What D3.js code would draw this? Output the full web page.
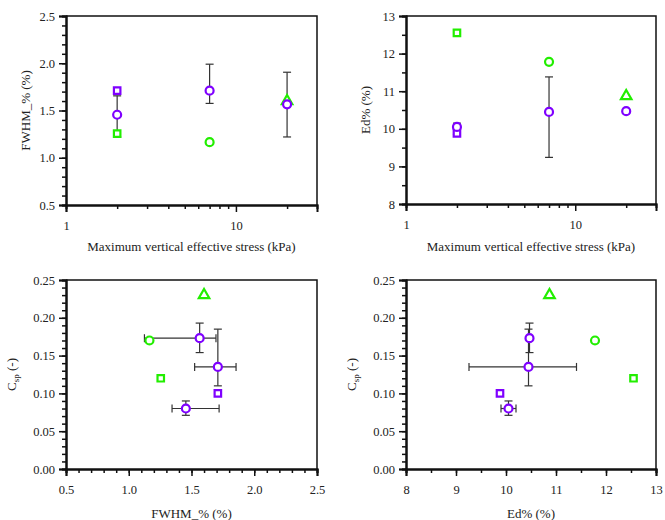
<!DOCTYPE html>
<html>
<head>
<meta charset="utf-8">
<script src="https://cdn.jsdelivr.net/npm/d3@7"></script>
<style>
  body { margin: 0; background: #fff; }
  text { font-family: "Liberation Serif", "DejaVu Serif", serif; fill: #222; }
</style>
</head>
<body>
<script>
// samples: stress (kPa), FWHM_% , Ed%, Csp, group colour and marker shape
var stress = [2, 2, 2, 7, 7, 20, 20];
var fwhm   = [1.71, 1.455, 1.255, 1.71, 1.165, 1.60, 1.565];
var ed     = [9.88, 10.05, 12.55, 10.45, 11.78, 10.87, 10.47];
var csp    = [0.10, 0.08, 0.12, 0.135, 0.17, 0.23, 0.173];
var group  = ["purple", "purple", "green", "purple", "green", "green", "purple"];
var shape  = ["square", "circle", "square", "circle", "circle", "triangle", "circle"];

// error bars read per panel: [index, low, high]
var fwhmErrStress = [[1, 1.22, 1.655], [3, 1.575, 1.99], [6, 1.22, 1.905]];
var edErrStress   = [[1, 9.85, 10.15], [3, 9.24, 11.38], [6, 10.43, 10.51]];
var fwhmErrCsp    = [[1, 1.345, 1.72], [3, 1.525, 1.855], [6, 1.125, 1.695]];
var cspErr        = [[1, 0.071, 0.09], [3, 0.11, 0.185], [6, 0.154, 0.193]];
var edErrCsp      = [[1, 9.9, 10.2], [3, 9.26, 11.41], [6, 10.43, 10.51]];

var stressMajor = [1, 10];
var stressMinor = [2, 3, 4, 5, 6, 7, 8, 9, 20];

var colors = { purple: "#7f00ff", green: "#22ee00" };

var svg = d3.select("body").append("svg")
  .attr("width", 665)
  .attr("height", 520);

function panel(o) {
  var g = svg.append("g");
  var x = o.log ? d3.scaleLog() : d3.scaleLinear();
  x.domain(o.xDomain).range([o.left, o.right]);
  var y = d3.scaleLinear().domain(o.yDomain).range([o.bottom, o.top]);

  // frame top + right
  g.append("path")
    .attr("d", `M${o.left},${o.top}H${o.right}V${o.bottom}`)
    .attr("fill", "none").attr("stroke", "#111").attr("stroke-width", 1.5);

  // x axis
  var xa = g.append("g").attr("transform", `translate(0,${o.bottom})`)
    .call(d3.axisBottom(x).tickValues(o.xMinor).tickSize(4).tickFormat(""));
  xa.append("g")
    .call(d3.axisBottom(x).tickValues(o.xMajor).tickSize(7).tickPadding(9).tickFormat(o.xFmt));
  xa.selectAll(".domain").attr("stroke", "#111").attr("stroke-width", 2);
  xa.selectAll("line").attr("stroke", "#111").attr("stroke-width", 1.5);
  xa.selectAll("text").attr("font-size", 12.5).attr("font-family", "Liberation Serif").attr("fill", "#222");

  var ya = g.append("g").attr("transform", `translate(${o.left},0)`)
    .call(d3.axisLeft(y).tickValues(o.yMinor).tickSize(4).tickFormat(""));
  ya.append("g")
    .call(d3.axisLeft(y).tickValues(o.yMajor).tickSize(7).tickPadding(4).tickFormat(o.yFmt));
  ya.selectAll(".domain").attr("stroke", "#111").attr("stroke-width", 2);
  ya.selectAll("line").attr("stroke", "#111").attr("stroke-width", 1.5);
  ya.selectAll("text").attr("font-size", 12.5).attr("font-family", "Liberation Serif").attr("fill", "#222");

  // axis titles
  g.append("text")
    .attr("x", (o.left + o.right) / 2).attr("y", o.bottom + o.xLabelDy)
    .attr("text-anchor", "middle").attr("font-size", 13)
    .text(o.xLabel);
  var yl = g.append("text")
    .attr("text-anchor", "middle").attr("font-size", 13)
    .attr("transform", `translate(${o.left - o.yLabelDx},${(o.top + o.bottom) / 2})rotate(-90)`);
  o.yLabel(yl);

  var eb = g.append("g").attr("stroke", "#333").attr("stroke-width", 1.2);
  o.yErr.forEach(function(e) {
    var cx = x(o.xs[e[0]]), y0 = y(e[1]), y1 = y(e[2]);
    eb.append("line").attr("x1", cx).attr("x2", cx).attr("y1", y0).attr("y2", y1);
    eb.append("line").attr("x1", cx - 4).attr("x2", cx + 4).attr("y1", y0).attr("y2", y0);
    eb.append("line").attr("x1", cx - 4).attr("x2", cx + 4).attr("y1", y1).attr("y2", y1);
  });
  (o.xErr || []).forEach(function(e) {
    var cy = y(o.ys[e[0]]), x0 = x(e[1]), x1 = x(e[2]);
    eb.append("line").attr("y1", cy).attr("y2", cy).attr("x1", x0).attr("x2", x1);
    eb.append("line").attr("y1", cy - 4).attr("y2", cy + 4).attr("x1", x0).attr("x2", x0);
    eb.append("line").attr("y1", cy - 4).attr("y2", cy + 4).attr("x1", x1).attr("x2", x1);
  });

  var sym = { circle: d3.symbolCircle, square: d3.symbolSquare, triangle: d3.symbolTriangle };
  var size = { circle: 50, square: 42, triangle: 48 };
  g.append("g").selectAll("path")
    .data(d3.range(o.xs.length))
    .join("path")
    .attr("transform", function(i) { return `translate(${x(o.xs[i])},${y(o.ys[i])})`; })
    .attr("d", function(i) { return d3.symbol(sym[shape[i]], size[shape[i]])(); })
    .attr("fill", "#fff")
    .attr("stroke", function(i) { return colors[group[i]]; })
    .attr("stroke-width", 2.2);
}

function plainLabel(t) { return function(sel) { sel.text(t); }; }
function cspLabel(sel) {
  sel.append("tspan").text("C");
  sel.append("tspan").attr("font-size", 9).attr("dy", 3).text("sp");
  sel.append("tspan").attr("dy", -3).text(" (-)");
}

var f1 = d3.format(".1f"), f2 = d3.format(".2f"), f0 = d3.format("d");

panel({
  left: 66, right: 317, top: 16, bottom: 205, log: true,
  xDomain: [1, 30], yDomain: [0.5, 2.5],
  xMajor: stressMajor, xMinor: stressMinor, xFmt: f0,
  yMajor: [0.5, 1.0, 1.5, 2.0, 2.5], yMinor: d3.range(5, 26).map(function(v) { return v / 10; }), yFmt: f1,
  xs: stress, ys: fwhm, yErr: fwhmErrStress,
  xLabel: "Maximum vertical effective stress (kPa)", xLabelDy: 46,
  yLabel: plainLabel("FWHM_% (%)"), yLabelDx: 36
});

panel({
  left: 406, right: 656, top: 16, bottom: 204, log: true,
  xDomain: [1, 30], yDomain: [8, 13],
  xMajor: stressMajor, xMinor: stressMinor, xFmt: f0,
  yMajor: [8, 9, 10, 11, 12, 13], yMinor: d3.range(16, 27).map(function(v) { return v / 2; }), yFmt: f0,
  xs: stress, ys: ed, yErr: edErrStress,
  xLabel: "Maximum vertical effective stress (kPa)", xLabelDy: 47,
  yLabel: plainLabel("Ed%  (%)"), yLabelDx: 36
});

panel({
  left: 66, right: 317, top: 280, bottom: 469, log: false,
  xDomain: [0.5, 2.5], yDomain: [0, 0.25],
  xMajor: [0.5, 1.0, 1.5, 2.0, 2.5], xMinor: d3.range(5, 26).map(function(v) { return v / 10; }), xFmt: f1,
  yMajor: [0, 0.05, 0.10, 0.15, 0.20, 0.25], yMinor: d3.range(0, 26).map(function(v) { return v / 100; }), yFmt: f2,
  xs: fwhm, ys: csp, yErr: cspErr, xErr: fwhmErrCsp,
  xLabel: "FWHM_% (%)", xLabelDy: 49,
  yLabel: cspLabel, yLabelDx: 50
});

panel({
  left: 406, right: 656, top: 280, bottom: 469, log: false,
  xDomain: [8, 13], yDomain: [0, 0.25],
  xMajor: [8, 9, 10, 11, 12, 13], xMinor: d3.range(16, 27).map(function(v) { return v / 2; }), xFmt: f0,
  yMajor: [0, 0.05, 0.10, 0.15, 0.20, 0.25], yMinor: d3.range(0, 26).map(function(v) { return v / 100; }), yFmt: f2,
  xs: ed, ys: csp, yErr: cspErr, xErr: edErrCsp,
  xLabel: "Ed% (%)", xLabelDy: 49,
  yLabel: cspLabel, yLabelDx: 50
});
</script>
</body>
</html>
